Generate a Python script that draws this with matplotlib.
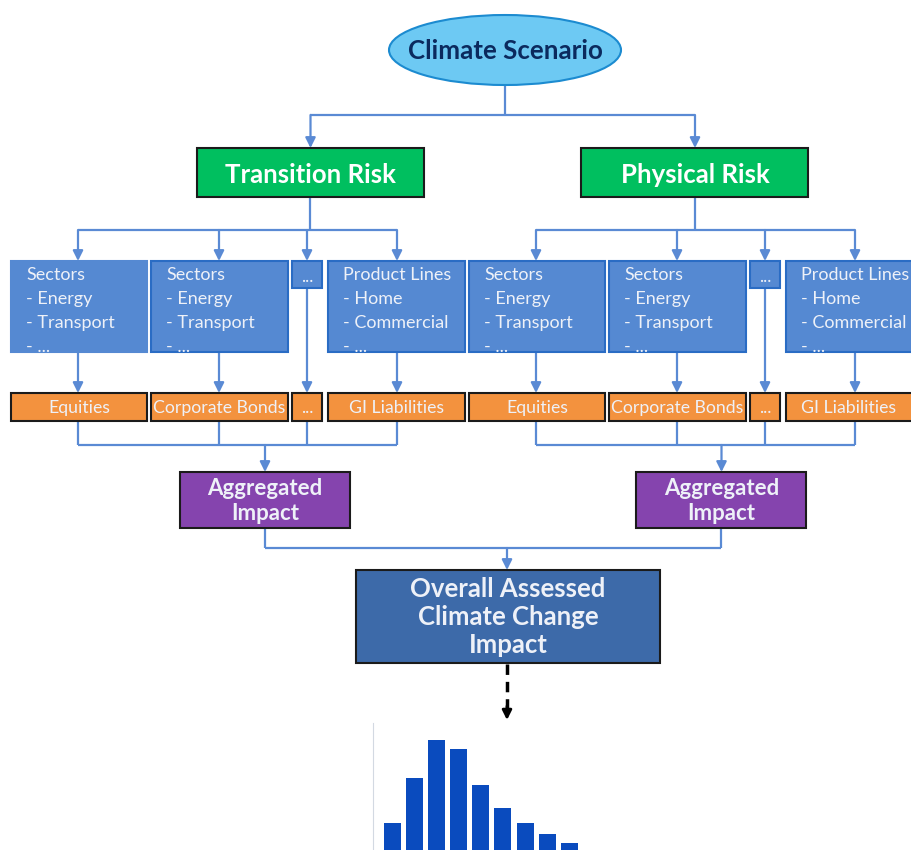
#!/usr/bin/env python3

import matplotlib
matplotlib.use('Agg')
import matplotlib.pyplot as plt
from matplotlib.patches import Ellipse, Rectangle

# ======================================================================
# Chart content.
# ======================================================================

top_label = 'Climate Scenario'
risk_labels = ['Transition Risk', 'Physical Risk']
exposure_labels = [
    ['Sectors', '- Energy', '- Transport', '- ...'],
    ['Sectors', '- Energy', '- Transport', '- ...'],
    ['...'],
    ['Product Lines', '- Home', '- Commercial', '- ...'],
    ]
asset_labels = ['Equities', 'Corporate Bonds', '...', 'GI Liabilities']
agg_label = 'Aggregated\nImpact'
overall_label = 'Overall Assessed\nClimate Change\nImpact'
# Loss distribution sketch (bar heights, visible part).
hist_counts = [27, 72, 110, 101, 65, 42, 27, 16, 7]

# ======================================================================
# Layout (pixel units, y downwards).
# ======================================================================

FONT = 'Lato'
LINE = '#5A8AD4'
BLUE = '#5589D2'
BLUE_EDGE = '#2A6CC4'
ORANGE = '#F3923E'
GREEN = '#00BF5F'
PURPLE = '#8544AE'
DARKBLUE = '#3D6AA9'
TXT = '#EEF1F8'

risk_cx = [310.5, 695.]
group_dx = [0., 458.]
col_left = [11., 151., 292., 328.]
col_w = [136., 137., 30., 137.]
col_cx = [78., 219., 307., 397.]
agg_cx = [265., 721.5]


def box(ax, x0, y0, x1, y1, fc, ec='#1b1b1b', lw=1.5):
    ax.add_patch(Rectangle((x0, y0), x1-x0, y1-y0, fc=fc, ec=ec, lw=lw,
                           zorder=2))


def arrow(ax, x, y0, y1, color=LINE):
    ax.annotate('', xy=(x, y1), xytext=(x, y0),
                arrowprops=dict(arrowstyle='-|>', color=color, lw=1.6,
                                mutation_scale=15, shrinkA=0, shrinkB=0),
                zorder=1)


def hline(ax, x0, x1, y):
    ax.plot([x0, x1], [y, y], color=LINE, lw=1.6, zorder=1,
            solid_capstyle='butt')


def vline(ax, x, y0, y1):
    ax.plot([x, x], [y0, y1], color=LINE, lw=1.6, zorder=1,
            solid_capstyle='butt')


fig = plt.figure(figsize=(9.12, 8.5), dpi=100)
ax = fig.add_axes([0, 0, 1, 1])
ax.set_xlim(0, 912)
ax.set_ylim(850, 0)
ax.axis('off')

# Top ellipse.
ax.add_patch(Ellipse((505, 50), 232, 70, fc='#6DC9F3', ec='#1C8BD0',
                     lw=1.5, zorder=2))
ax.text(505, 51, top_label, ha='center', va='center', fontsize=18.6,
        fontweight='bold', color='#0B2A5E', family=FONT, zorder=3)
vline(ax, 505, 85, 115)
hline(ax, risk_cx[0], risk_cx[1], 115)

for g in range(2):
    dx = group_dx[g]
    rc = risk_cx[g]
    arrow(ax, rc, 115, 148)
    box(ax, rc-113.5, 148, rc+113.5, 197, GREEN)
    ax.text(rc, 175, risk_labels[g], ha='center', va='center',
            fontsize=18.5, fontweight='bold', color='white', family=FONT,
            zorder=3)
    vline(ax, rc, 197, 230)
    hline(ax, col_cx[0]+dx, col_cx[3]+dx, 230)

    for i in range(4):
        cx = col_cx[i] + dx
        x0 = col_left[i] + dx
        x1 = min(x0 + col_w[i], 912)
        arrow(ax, cx, 230, 261)
        # Exposure boxes.
        lines = exposure_labels[i]
        if len(lines) == 1:
            box(ax, x0, 261, x1, 288, BLUE, ec=BLUE_EDGE, lw=1.5)
            ax.text((x0+x1)/2, 282, lines[0], ha='center', va='baseline',
                    fontsize=12.5, color=TXT, family=FONT, zorder=3)
            y_bot = 288
        else:
            ec = BLUE if (g == 0 and i == 0) else BLUE_EDGE
            box(ax, x0, 261, x1, 352, BLUE, ec=ec, lw=1.5)
            for k, s in enumerate(lines):
                ax.text(x0+15, 280+24*k, s, ha='left', va='baseline',
                        fontsize=13, color=TXT, family=FONT, zorder=3)
            y_bot = 352
        arrow(ax, cx, y_bot, 393)
        # Asset boxes.
        box(ax, x0, 393, x1 if x1 < 912 else 914, 421, ORANGE)
        ax.text((x0+x1)/2, 408, asset_labels[i], ha='center', va='center',
                fontsize=12.7, color=TXT, family=FONT, zorder=3)
        vline(ax, cx, 421, 445)
    hline(ax, col_cx[0]+dx, col_cx[3]+dx, 445)

    ac = agg_cx[g]
    arrow(ax, ac, 445, 472)
    box(ax, ac-85, 472, ac+85, 528, PURPLE)
    ax.text(ac, 501, agg_label, ha='center', va='center', fontsize=16,
            fontweight='bold', color=TXT, family=FONT, linespacing=1.25,
            zorder=3)
    vline(ax, ac, 528, 548)

hline(ax, agg_cx[0], agg_cx[1], 548)
arrow(ax, 507, 548, 570)
box(ax, 356, 570, 660, 663, DARKBLUE)
ax.text(508, 617, overall_label, ha='center', va='center', fontsize=18.5,
        fontweight='bold', color=TXT, family=FONT, linespacing=1.22,
        zorder=3)

# Dashed link to the distribution.
ax.plot([507, 507], [664, 708], color='black', lw=2.5, ls=(0, (3, 2)),
        zorder=1)
ax.annotate('', xy=(507, 720), xytext=(507, 706),
            arrowprops=dict(arrowstyle='-|>', color='black', lw=2,
                            mutation_scale=14, shrinkA=0, shrinkB=0))

# ======================================================================
# Histogram.
# ======================================================================

hax = fig.add_axes([373/912, 0, (640-373)/912, (850-723)/850])
hax.bar(range(len(hist_counts)), hist_counts, width=0.77, color='#0A4BBE')
hax.set_xlim(-0.88, 11.2)
hax.set_ylim(0, 127)
for s in ['top', 'right', 'bottom']:
    hax.spines[s].set_visible(False)
hax.spines['left'].set_color('#d3d9e2')
hax.set_xticks([])
hax.set_yticks([])
hax.patch.set_alpha(0)

fig.savefig('out.png', dpi=100)
plt.close()
